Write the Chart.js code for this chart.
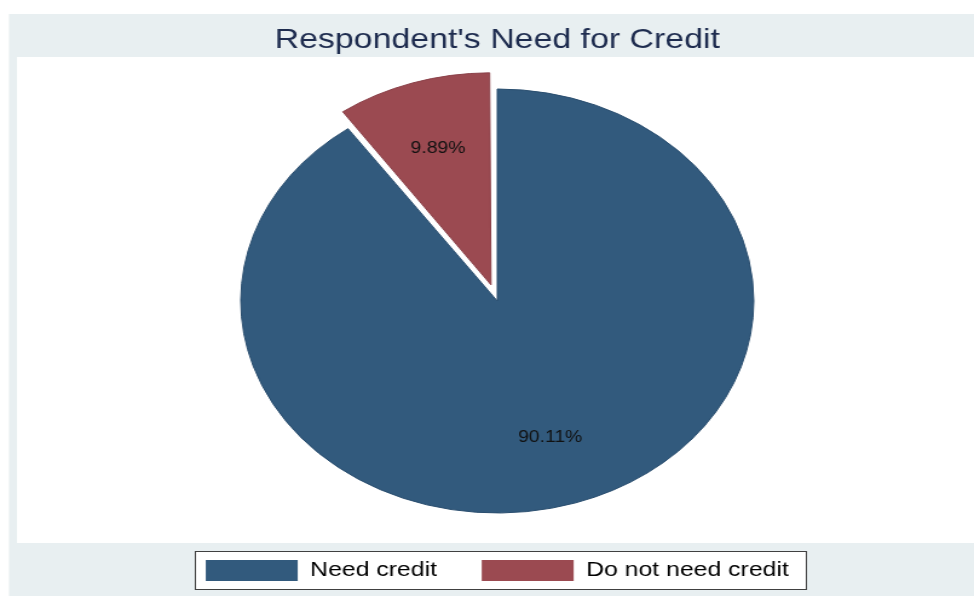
<!DOCTYPE html>
<html>
<head>
<meta charset="utf-8">
<script src="https://cdn.jsdelivr.net/npm/chart.js@4.4.1/dist/chart.umd.min.js"></script>
<style>
  html, body { margin: 0; padding: 0; background: #ffffff; overflow: hidden; }
  /* the graph is drawn at a narrower width and widened horizontally */
  #wrap { width: 805px; height: 596px; transform: scaleX(1.2099); transform-origin: 0 0; }
  canvas { display: block; }
</style>
</head>
<body>
<div id="wrap"><canvas id="pie" width="805" height="596" style="width:805px;height:596px"></canvas></div>
<script>
// Share of respondents (percent)
const categories = ['Need credit', 'Do not need credit'];
const shares = [90.11, 9.89];
const sliceColors = ['#325a7d', '#9b4a51'];
const sliceEdges = ['#2b4f70', '#8c424a'];
const explode = [0, 68];
const chartTitle = "Respondent's Need for Credit";

const FONT = '"Liberation Sans", Arial, Helvetica, sans-serif';
Chart.defaults.font.family = FONT;

// Graph region (light blue-gray), plot region (white) and the legend frame
const panels = {
  id: 'panels',
  beforeDraw(chart) {
    const ctx = chart.ctx;
    const W = chart.width, H = chart.height;
    ctx.save();
    ctx.fillStyle = '#ffffff';
    ctx.fillRect(0, 0, W, H);
    ctx.fillStyle = '#e8eff1';
    ctx.fillRect(7.4, 14, W - 7.4, H - 14);
    ctx.fillStyle = '#ffffff';
    ctx.fillRect(14, 57, W - 14, 543 - 57);
    const hb = chart.legend && chart.legend.legendHitBoxes;
    if (hb && hb.length) {
      const first = hb[0], last = hb[hb.length - 1];
      const x0 = Math.round(first.left - 9);
      const x1 = Math.round(last.left + last.width + 14);
      const y0 = Math.round(first.top - 9);
      const y1 = Math.round(first.top + first.height + 8);
      ctx.fillStyle = '#ffffff';
      ctx.fillRect(x0, y0, x1 - x0, y1 - y0);
      ctx.strokeStyle = '#404040';
      ctx.lineWidth = 1;
      ctx.strokeRect(x0 + 0.5, y0 + 0.5, x1 - x0, y1 - y0);
    }
    ctx.restore();
  }
};

// Keep an exploded slice at the same radius as the rest of the pie
const keepRadius = {
  id: 'keepRadius',
  afterDatasetUpdate(chart, args) {
    args.meta.data.forEach(arc => {
      const shift = (arc.options.offset || 0) / 4;
      const fix = 1 - Math.sin(Math.min(Math.PI, arc.circumference || 0));
      arc.outerRadius -= shift * fix;
    });
  }
};

// Percentage labels inside each slice
const sliceLabels = {
  id: 'sliceLabels',
  afterDatasetsDraw(chart) {
    const ctx = chart.ctx;
    const meta = chart.getDatasetMeta(0);
    const values = chart.data.datasets[0].data;
    ctx.save();
    ctx.font = '16px ' + FONT;
    ctx.fillStyle = '#111111';
    ctx.textAlign = 'center';
    ctx.textBaseline = 'middle';
    meta.data.forEach((arc, i) => {
      const p = arc.getProps(['x', 'y', 'startAngle', 'endAngle', 'outerRadius', 'circumference'], true);
      const mid = (p.startAngle + p.endAngle) / 2;
      const shift = (arc.options.offset || 0) / 4;
      const fix = 1 - Math.sin(Math.min(Math.PI, p.circumference || 0));
      const drawnR = p.outerRadius + shift * fix;
      const r = shift + drawnR * 0.675;
      ctx.fillText(values[i].toFixed(2) + '%', p.x + Math.cos(mid) * r, p.y + Math.sin(mid) * r);
    });
    ctx.restore();
  }
};

new Chart(document.getElementById('pie'), {
  type: 'pie',
  data: {
    labels: categories,
    datasets: [{
      data: shares,
      backgroundColor: sliceColors,
      borderColor: sliceEdges,
      borderWidth: 1,
      offset: explode
    }]
  },
  options: {
    responsive: false,
    animation: false,
    devicePixelRatio: 1,
    radius: 212,
    layout: { padding: { top: 0, bottom: 5, left: 17, right: 0 } },
    plugins: {
      title: {
        display: true,
        text: chartTitle,
        color: '#1e2c4f',
        font: { size: 28, weight: 'normal', family: FONT, lineHeight: 1.2 },
        padding: { top: 23.5, bottom: 21.9 }
      },
      legend: {
        display: true,
        position: 'bottom',
        labels: {
          color: '#000000',
          font: { size: 20.5, family: FONT },
          boxWidth: 76,
          boxHeight: 21,
          padding: 37,
          generateLabels(chart) {
            const ds = chart.data.datasets[0];
            return chart.data.labels.map((label, i) => ({
              text: label,
              fillStyle: ds.backgroundColor[i],
              strokeStyle: ds.backgroundColor[i],
              lineWidth: 0,
              hidden: false,
              index: i
            }));
          }
        }
      },
      tooltip: { enabled: false }
    }
  },
  plugins: [panels, keepRadius, sliceLabels]
});
</script>
</body>
</html>
